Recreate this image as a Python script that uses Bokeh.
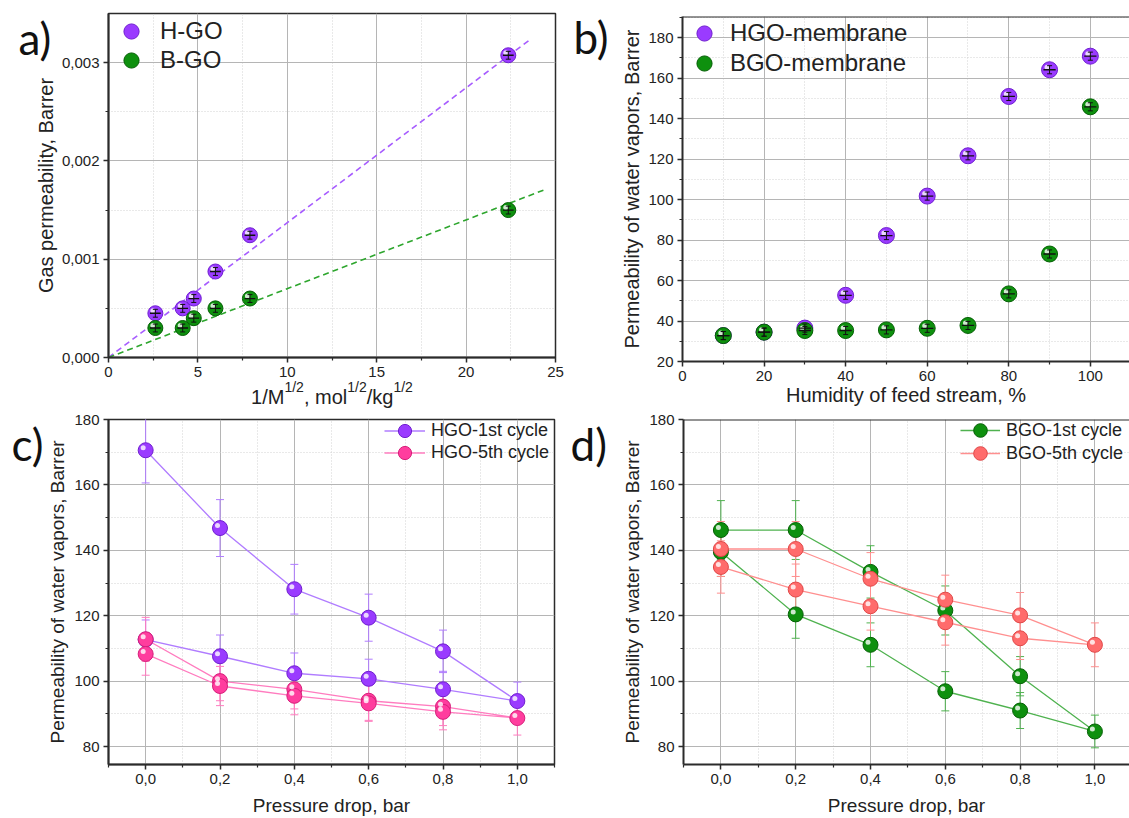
from bokeh.plotting import figure
from bokeh.layouts import row, column
from bokeh.models import (FixedTicker, CustomJSTickFormatter, Whisker, TeeHead, ColumnDataSource,
                          Legend, LegendItem, Label, Span, Range1d, GridBox)
from bokeh.embed import file_html
from bokeh.resources import INLINE

# ---------------- data ----------------
# panel a: gas permeability vs 1/sqrt(M)
a_x = [2.62, 4.15, 4.77, 5.98, 7.91, 22.36]
a_hgo = [0.00045, 0.00050, 0.00060, 0.000875, 0.001244, 0.003075]
a_bgo = [0.00030, 0.00030, 0.00040, 0.00050, 0.00060, 0.00150]
a_yerr = [0.00004, 0.00004, 0.00004, 0.00004, 0.00004, 0.00004]
a_xerr = [0.3, 0.3, 0.3, 0.3, 0.3, 0.3]
a_fit_h_slope = 0.0001372
a_fit_b_slope = 0.0000700
a_fit_h_x = [0.0, 23.6]
a_fit_b_x = [0.0, 24.4]

# panel b: permeability vs humidity
b_x = [10, 20, 30, 40, 50, 60, 70, 80, 90, 100]
b_hgo = [32.8, 34.5, 36.5, 52.7, 82.2, 101.7, 121.6, 150.9, 164.1, 170.8]
b_bgo = [32.8, 34.5, 35.3, 35.3, 35.6, 36.4, 37.8, 53.4, 73.1, 145.8]
b_yerr = [2.0, 2.0, 2.0, 2.0, 2.0, 2.0, 2.0, 2.0, 2.0, 2.0]
b_xerr = [1.5, 1.5, 1.5, 1.5, 1.5, 1.5, 1.5, 1.5, 1.5, 1.5]

# panel c / d: permeability vs pressure drop (up and back)
cd_x = [0.0, 0.2, 0.4, 0.6, 0.8, 1.0, 0.8, 0.6, 0.4, 0.2, 0.0]
c_h1 = [170.6, 146.8, 128.1, 119.4, 109.1, 93.9, 97.5, 100.7, 102.4, 107.6, 112.7]
c_h1_err = [10.0, 8.7, 7.6, 7.2, 6.5, 5.8, 5.5, 6.0, 6.2, 6.5, 6.0]
c_h5 = [112.8, 100.0, 97.5, 94.0, 92.2, 88.7, 90.6, 93.2, 95.5, 98.5, 108.3]
c_h5_err = [6.7, 6.0, 6.0, 6.0, 5.8, 5.2, 5.5, 5.5, 5.8, 6.0, 6.5]
d_g1 = [146.2, 146.2, 133.4, 121.6, 101.5, 84.6, 91.0, 96.9, 111.1, 120.4, 139.5]
d_g1_err = [9.0, 9.0, 8.0, 7.5, 6.0, 5.0, 5.5, 6.0, 6.7, 7.3, 7.5]
d_b5 = [140.4, 140.4, 131.3, 124.9, 120.1, 111.1, 113.1, 118.0, 122.9, 128.0, 134.9]
d_b5_err = [8.4, 8.4, 8.0, 7.5, 7.0, 6.7, 6.5, 7.0, 7.3, 7.8, 8.0]

a_xticks = [0, 5, 10, 15, 20, 25]
a_xminor = [2.5, 7.5, 12.5, 17.5, 22.5]
a_yticks = [0.0, 0.001, 0.002, 0.003]
a_yminor = [0.0005, 0.0015, 0.0025]
b_xticks = [0, 20, 40, 60, 80, 100]
b_xminor = [10, 30, 50, 70, 90]
b_yticks = [20, 40, 60, 80, 100, 120, 140, 160, 180]
b_yminor = [30, 50, 70, 90, 110, 130, 150, 170, 190]
cd_xticks = [0.0, 0.2, 0.4, 0.6, 0.8, 1.0]
cd_xminor = [-0.1, 0.1, 0.3, 0.5, 0.7, 0.9, 1.1]
cd_yticks = [80, 100, 120, 140, 160, 180]
cd_yminor = [90, 110, 130, 150, 170]

# ---------------- styles ----------------
FONT = "Liberation Sans"
PURPLE, PURPLE_E, PURPLE_L = "#9a3bff", "#6f1fcf", "#b07cff"
GREEN, GREEN_E, GREEN_L = "#0e900e", "#055f05", "#4fb24f"
PINK, PINK_E, PINK_L = "#ff3d9e", "#d61f7a", "#ff7cbf"
SALMON, SALMON_E, SALMON_L = "#ff6b6b", "#e04848", "#ff8f8f"
TXT = "#222222"


def make_fig(w, h, bl, br, bt, bb, xr, yr):
    p = figure(width=w, height=h, min_border_left=bl, min_border_right=br,
               min_border_top=bt, min_border_bottom=bb, x_range=Range1d(*xr), y_range=Range1d(*yr),
               output_backend="svg", toolbar_location=None)
    p.background_fill_color = "white"
    p.border_fill_color = "white"
    p.outline_line_color = "#2b2b2b"
    p.outline_line_width = 1.5
    return p


def style(p, xt, xm, yt, ym, xfmt=None, yfmt=None, title_size="20px"):
    p.xaxis.ticker = FixedTicker(ticks=xt, minor_ticks=xm)
    p.yaxis.ticker = FixedTicker(ticks=yt, minor_ticks=ym)
    if xfmt:
        p.xaxis.formatter = CustomJSTickFormatter(code=xfmt)
    if yfmt:
        p.yaxis.formatter = CustomJSTickFormatter(code=yfmt)
    for ax in (p.xaxis[0], p.yaxis[0]):
        ax.axis_line_width = 2
        ax.axis_line_color = "#2b2b2b"
        ax.major_tick_line_color = "#2b2b2b"
        ax.minor_tick_line_color = "#2b2b2b"
        ax.major_tick_line_width = 1.5
        ax.minor_tick_line_width = 1.2
        ax.major_tick_out = 5
        ax.major_tick_in = 0
        ax.minor_tick_out = 3
        ax.minor_tick_in = 0
        ax.major_label_text_font = FONT
        ax.major_label_text_font_size = "15px"
        ax.major_label_text_color = TXT
        ax.major_label_standoff = 4
        ax.axis_label_text_font = FONT
        ax.axis_label_text_font_size = title_size
        ax.axis_label_text_font_style = "normal"
        ax.axis_label_text_color = TXT
    for g in (p.xgrid[0], p.ygrid[0]):
        g.grid_line_color = "#b5b5b5"
        g.grid_line_width = 1
        g.minor_grid_line_color = "#d2d2d2"
        g.minor_grid_line_dash = "1 2"
        g.minor_grid_line_width = 1


def hl_offsets(p, fw, fh):
    xr, yr = p.x_range, p.y_range
    dx = -2.5 * (xr.end - xr.start) / fw
    dy = 2.5 * (yr.end - yr.start) / fh
    return dx, dy


def balls(p, xs, ys, fill, edge, fw, fh, size=15):
    r = p.scatter(xs, ys, size=size, fill_color=fill, line_color=edge, line_width=1)
    dx, dy = hl_offsets(p, fw, fh)
    p.scatter([x + dx for x in xs], [y + dy for y in ys], size=5, fill_color="white",
              fill_alpha=0.8, line_color=None)
    return r


def cross_err(p, xs, ys, xerr, yerr, color="#111111", head=5):
    src = ColumnDataSource(dict(x=xs, y=ys,
                                ylo=[y - e for y, e in zip(ys, yerr)], yhi=[y + e for y, e in zip(ys, yerr)],
                                xlo=[x - e for x, e in zip(xs, xerr)], xhi=[x + e for x, e in zip(xs, xerr)]))
    p.add_layout(Whisker(base="x", lower="ylo", upper="yhi", source=src, dimension="height",
                         line_color=color, line_width=1, level="overlay",
                         upper_head=TeeHead(size=head, line_color=color, line_width=1),
                         lower_head=TeeHead(size=head, line_color=color, line_width=1)))
    p.add_layout(Whisker(base="y", lower="xlo", upper="xhi", source=src, dimension="width",
                         line_color=color, line_width=1.3, level="overlay",
                         upper_head=None, lower_head=None))


def y_err(p, xs, ys, err, color):
    src = ColumnDataSource(dict(x=xs, lo=[y - e for y, e in zip(ys, err)], hi=[y + e for y, e in zip(ys, err)]))
    p.add_layout(Whisker(base="x", lower="lo", upper="hi", source=src, dimension="height",
                         line_color=color, line_width=1, level="underlay",
                         upper_head=TeeHead(size=8, line_color=color, line_width=1),
                         lower_head=TeeHead(size=8, line_color=color, line_width=1)))


def add_legend(p, label, renderers, loc, gw, gh, standoff, size):
    p.add_layout(Legend(items=[LegendItem(label=label, renderers=renderers)], location=loc,
                        glyph_width=gw, glyph_height=gh, label_height=gh,
                        spacing=0, padding=0, margin=0, label_standoff=standoff,
                        label_text_font=FONT, label_text_font_size=size, label_text_color=TXT,
                        border_line_color=None, background_fill_alpha=0))


# ---------------- panel a ----------------
A_FW, A_FH = 447, 344
pa = make_fig(578, 408, 108, 23, 13, 51, (0, 25), (0, 0.0035))
style(pa, a_xticks, a_xminor, a_yticks, a_yminor, yfmt="return tick.toFixed(3).replace('.', ',')")
pa.yaxis.axis_label = "Gas permeability, Barrer"
pa.yaxis.axis_label_standoff = 2
pa.line(a_fit_h_x, [a_fit_h_slope * x for x in a_fit_h_x], line_color="#a75cff", line_width=1.6, line_dash="6 4")
pa.line(a_fit_b_x, [a_fit_b_slope * x for x in a_fit_b_x], line_color="#2ea62e", line_width=1.6, line_dash="6 4")
ra_h = balls(pa, a_x, a_hgo, PURPLE, PURPLE_E, A_FW, A_FH)
ra_b = balls(pa, a_x, a_bgo, GREEN, GREEN_E, A_FW, A_FH)
cross_err(pa, a_x, a_hgo, a_xerr, a_yerr)
cross_err(pa, a_x, a_bgo, a_xerr, a_yerr)
add_legend(pa, "H-GO", [ra_h], (4, 307), 38, 38, 10, "24px")
add_legend(pa, "B-GO", [ra_b], (4, 278), 38, 38, 10, "24px")

# ---------------- panel b ----------------
B_FW, B_FH = 447, 345
pb = make_fig(551, 408, 104, 0, 16, 47, (0, 109.6), (20, 190.4))
style(pb, b_xticks, b_xminor, b_yticks, b_yminor)
pb.outline_line_color = None
pb.add_layout(Span(location=190.4, dimension="width", line_color="#2b2b2b", line_width=2))
pb.xaxis.axis_label = "Humidity of feed stream, %"
pb.yaxis.axis_label = "Permeability of water vapors, Barrer"
pb.xaxis.axis_label_standoff = 0
pb.yaxis.axis_label_standoff = 2
rb_h = balls(pb, b_x, b_hgo, PURPLE, PURPLE_E, B_FW, B_FH, size=16)
rb_b = balls(pb, b_x, b_bgo, GREEN, GREEN_E, B_FW, B_FH, size=16)
cross_err(pb, b_x, b_hgo, b_xerr, b_yerr)
cross_err(pb, b_x, b_bgo, b_xerr, b_yerr)
add_legend(pb, "HGO-membrane", [rb_h], (3, 309), 38, 38, 7, "24px")
add_legend(pb, "BGO-membrane", [rb_b], (3, 279), 38, 38, 7, "24px")

# ---------------- panel c ----------------
C_FW, C_FH = 446, 347
pc = make_fig(578, 410, 108, 24, 11, 52, (-0.1, 1.1), (74.5, 180))
style(pc, cd_xticks, cd_xminor, cd_yticks, cd_yminor, xfmt="return tick.toFixed(1).replace('.', ',')",
      title_size="19px")
pc.xaxis.axis_label = "Pressure drop, bar"
pc.yaxis.axis_label = "Permeability of water vapors, Barrer"
pc.xaxis.axis_label_standoff = 8
pc.yaxis.axis_label_standoff = 3
lc1 = pc.line(cd_x, c_h1, line_color=PURPLE_L, line_width=1.3)
y_err(pc, cd_x, c_h1, c_h1_err, PURPLE_L)
lc5 = pc.line(cd_x, c_h5, line_color=PINK_L, line_width=1.3)
y_err(pc, cd_x, c_h5, c_h5_err, PINK_L)
rc1 = balls(pc, cd_x, c_h1, PURPLE, PURPLE_E, C_FW, C_FH)
rc5 = balls(pc, cd_x, c_h5, PINK, PINK_E, C_FW, C_FH)
add_legend(pc, "HGO-1st cycle", [lc1, rc1], (276, 317), 41, 33, 6, "18px")
add_legend(pc, "HGO-5th cycle", [lc5, rc5], (276, 295), 41, 33, 6, "18px")

# ---------------- panel d ----------------
D_FW, D_FH = 446, 347
pd_ = make_fig(551, 410, 105, 0, 11, 52, (-0.1, 1.0925), (74.5, 180))
style(pd_, cd_xticks, cd_xminor, cd_yticks, cd_yminor, xfmt="return tick.toFixed(1).replace('.', ',')",
      title_size="19px")
pd_.outline_line_color = None
pd_.add_layout(Span(location=180, dimension="width", line_color="#2b2b2b", line_width=2))
pd_.xaxis.axis_label = "Pressure drop, bar"
pd_.yaxis.axis_label = "Permeability of water vapors, Barrer"
pd_.xaxis.axis_label_standoff = 8
pd_.yaxis.axis_label_standoff = 3
ld1 = pd_.line(cd_x, d_g1, line_color=GREEN_L, line_width=1.3)
y_err(pd_, cd_x, d_g1, d_g1_err, GREEN_L)
ld5 = pd_.line(cd_x, d_b5, line_color=SALMON_L, line_width=1.3)
y_err(pd_, cd_x, d_b5, d_b5_err, SALMON_L)
rd1 = balls(pd_, cd_x, d_g1, GREEN, GREEN_E, D_FW, D_FH)
rd5 = balls(pd_, cd_x, d_b5, SALMON, SALMON_E, D_FW, D_FH)
add_legend(pd_, "BGO-1st cycle", [ld1, rd1], (277, 317), 40, 34, 6, "18px")
add_legend(pd_, "BGO-5th cycle", [ld5, rd5], (277, 294), 40, 34, 6, "18px")

# ---------------- transparent overlay for panel letters and panel-a x title ----------------
ov = figure(width=1129, height=818, x_range=Range1d(0, 1129), y_range=Range1d(0, 818),
            output_backend="svg", toolbar_location=None, x_axis_location=None, y_axis_location=None,
            min_border_left=0, min_border_right=0, min_border_top=0, min_border_bottom=0)
ov.grid.visible = False
ov.background_fill_alpha = 0
ov.border_fill_alpha = 0
ov.outline_line_color = None


def ov_text(text, x, y_top, size, font=FONT, color=TXT):
    ov.add_layout(Label(x=x, y=818 - y_top, x_units="screen", y_units="screen", text=text,
                        text_font=font, text_font_size=size, text_color=color,
                        text_baseline="alphabetic", text_align="left"))


for letter, lx, ly in [("a)", 18, 37), ("b)", 573, 36), ("c)", 11, 443), ("d)", 570, 443)]:
    ov_text(letter, lx, ly, "44px", font="Lato", color="#111111")

pieces = [("1/M", False, 33.3), ("1/2", True, 19.5), (", mol", False, 43.3), ("1/2", True, 19.5),
          ("/kg", False, 26.7), ("1/2", True, 19.5)]
xpos = 250.6
for txt, sup, wpx in pieces:
    ov_text(txt, xpos, 386 if sup else 396, "14px" if sup else "20px")
    xpos += wpx

inner = column(row(column(pa), column(pb)), row(column(pc), column(pd_)))
layout = GridBox(children=[(inner, 0, 0), (column(ov), 0, 0)])
open("out.html", "w").write(file_html(layout, INLINE))
